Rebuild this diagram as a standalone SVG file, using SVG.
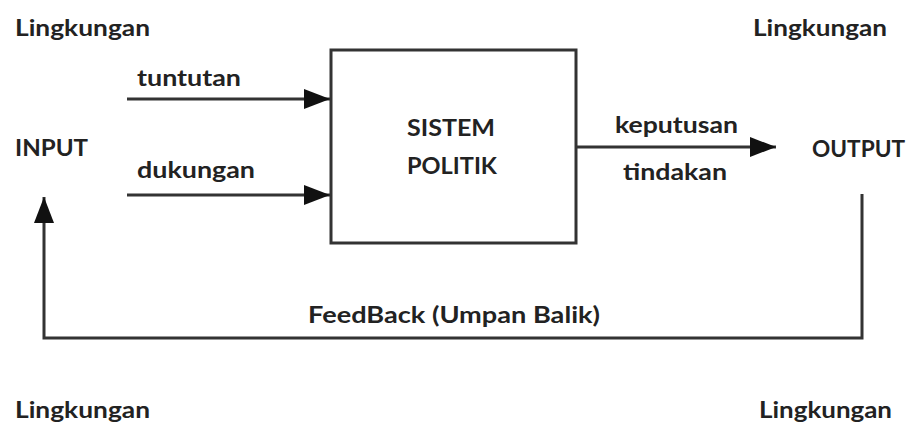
<svg xmlns="http://www.w3.org/2000/svg" width="911" height="427" viewBox="0 0 911 427">
<style>
text{font-family:Lato,"Open Sans","Liberation Sans",sans-serif;font-weight:bold;font-size:22px;fill:#222}
.ln{fill:none;stroke:#333;stroke-width:3}
</style>
<defs>
<marker id="ah" markerUnits="userSpaceOnUse" markerWidth="28" markerHeight="22" refX="26" refY="10" orient="auto">
<path d="M0,0 L26,10 L0,20 Z" fill="#111"/>
</marker>
</defs>
<rect width="911" height="427" fill="#fff"/>
<g id="env">
<text x="15" y="36" textLength="135" lengthAdjust="spacingAndGlyphs">Lingkungan</text>
<text x="753" y="36" textLength="134" lengthAdjust="spacingAndGlyphs">Lingkungan</text>
<text x="15" y="418" textLength="135" lengthAdjust="spacingAndGlyphs">Lingkungan</text>
<text x="759" y="418" textLength="133" lengthAdjust="spacingAndGlyphs">Lingkungan</text>
</g>
<g id="input"><text x="15" y="156" textLength="73" lengthAdjust="spacingAndGlyphs">INPUT</text></g>
<g id="output"><text x="812" y="157" textLength="93" lengthAdjust="spacingAndGlyphs">OUTPUT</text></g>
<g id="sistem">
<rect x="331" y="50" width="245" height="193" class="ln" fill="#fff"/>
<text x="407" y="136" textLength="88" lengthAdjust="spacingAndGlyphs">SISTEM</text>
<text x="407" y="174" textLength="90" lengthAdjust="spacingAndGlyphs">POLITIK</text>
</g>
<g id="connectors">
<line x1="127" y1="99" x2="330" y2="99" class="ln" marker-end="url(#ah)"/>
<line x1="127" y1="195" x2="330" y2="195" class="ln" marker-end="url(#ah)"/>
<line x1="576" y1="147" x2="776" y2="147" class="ln" marker-end="url(#ah)"/>
<path d="M862,194 V338 H44 V197" class="ln" marker-end="url(#ah)"/>
<text x="137" y="86" textLength="104" lengthAdjust="spacingAndGlyphs">tuntutan</text>
<text x="137" y="178" textLength="118" lengthAdjust="spacingAndGlyphs">dukungan</text>
<text x="615" y="133" textLength="123" lengthAdjust="spacingAndGlyphs">keputusan</text>
<text x="623" y="180" textLength="104" lengthAdjust="spacingAndGlyphs">tindakan</text>
<text x="308" y="323" textLength="292" lengthAdjust="spacingAndGlyphs">FeedBack (Umpan Balik)</text>
</g>
</svg>
